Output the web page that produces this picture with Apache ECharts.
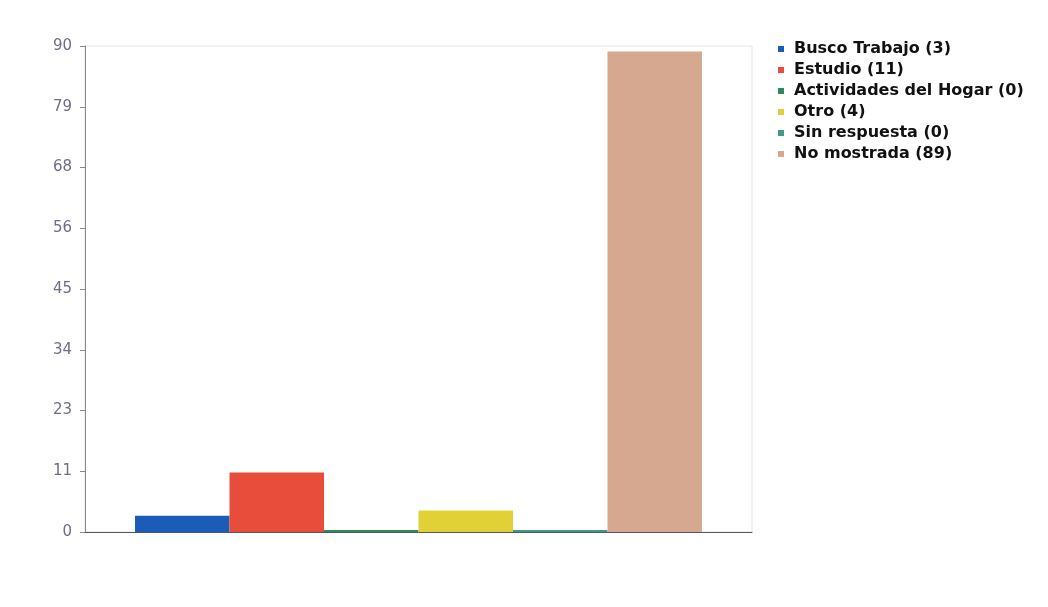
<!DOCTYPE html>
<html><head><meta charset="utf-8">
<script src="https://cdn.jsdelivr.net/npm/echarts@6/dist/echarts.min.js"></script>
<style>html,body{margin:0;padding:0;background:#fff}#c{width:1048px;height:607px}</style>
</head><body><div id="c"></div>
<script>
const seriesNames = ['Busco Trabajo (3)','Estudio (11)','Actividades del Hogar (0)','Otro (4)','Sin respuesta (0)','No mostrada (89)'];
const seriesValues = [3, 11, 0, 4, 0, 89];
const seriesColors = ['#1a5cb8','#e84c3a','#2f8a5a','#e2d136','#3c9c8c','#d6a890'];
const yTicks = [0, 11, 23, 34, 45, 56, 68, 79, 90];

const chart = echarts.init(document.getElementById('c'));
chart.setOption({
  animation: false,
  grid: {left: 85, right: 296, top: 46, bottom: 75, show: true, borderColor: '#e4e4ea', borderWidth: 1},
  legend: {
    orient: 'vertical', left: 773, top: 36, itemWidth: 6, itemHeight: 6, itemGap: 5,
    icon: 'rect',
    textStyle: {fontFamily: 'DejaVu Sans', fontWeight: 'bold', fontSize: 16, color: '#111', padding: [0, 0, 0, 5]}
  },
  xAxis: {type: 'category', data: [''], axisTick: {show: false}, axisLabel: {show: false},
    axisLine: {lineStyle: {color: '#55556a'}}},
  yAxis: {type: 'value', min: 0, max: 90, interval: 11.25,
    splitLine: {show: false},
    axisLine: {show: true, lineStyle: {color: '#888894'}},
    axisTick: {show: true, length: 5, lineStyle: {color: '#888894'}},
    axisLabel: {fontFamily: 'DejaVu Sans', fontSize: 15, color: '#6e6e88', margin: 13,
      formatter: v => String(yTicks[Math.round(v / 11.25)])}
  },
  series: seriesNames.map((n, i) => ({
    name: n, type: 'bar', data: [seriesValues[i]], barGap: '0%', barCategoryGap: '15%',
    barMinHeight: 2, itemStyle: {color: seriesColors[i]}
  }))
});
</script></body></html>
